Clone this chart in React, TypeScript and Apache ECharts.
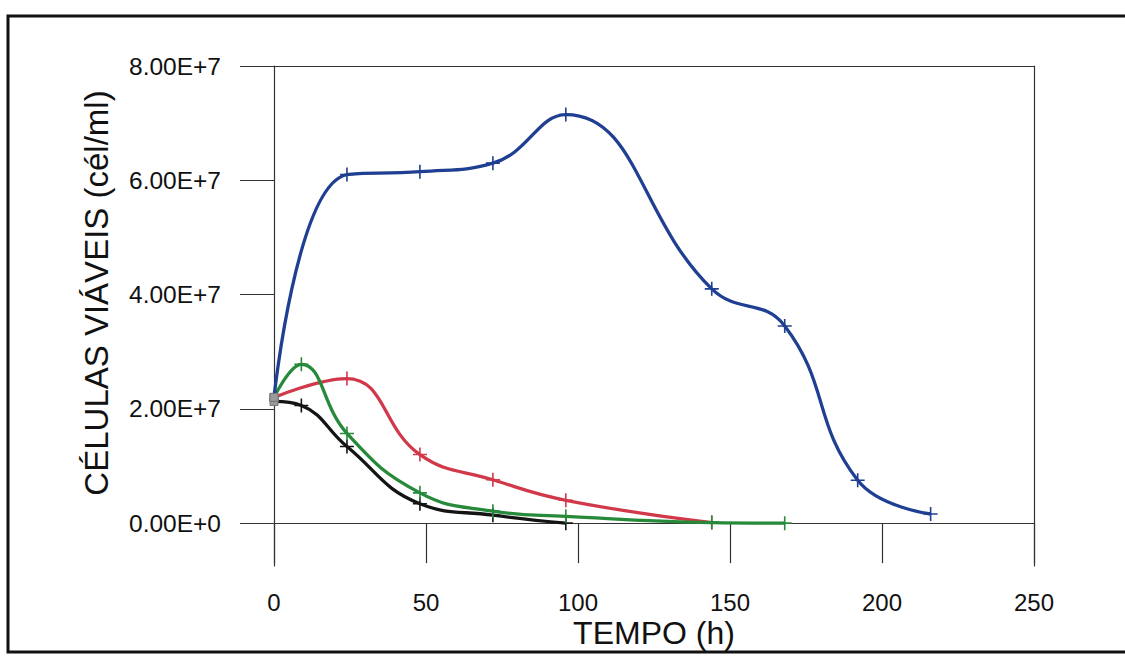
import React, { useEffect, useRef } from "react";
import * as echarts from "echarts";

// Sampling times (h)
const blueTimes = [0, 24, 48, 72, 96, 144, 168, 192, 216];
const blueValues = [2.2e7, 6.1e7, 6.15e7, 6.3e7, 7.15e7, 4.1e7, 3.45e7, 0.75e7, 0.16e7];

const redTimes = [0, 24, 48, 72, 96, 144];
const redValues = [2.2e7, 2.53e7, 1.2e7, 0.76e7, 0.4e7, 0.01e7];

const greenTimes = [0, 9, 24, 48, 72, 96, 144, 168];
const greenValues = [2.2e7, 2.78e7, 1.57e7, 0.53e7, 0.21e7, 0.12e7, 0.01e7, 0];

const blackTimes = [0, 9, 24, 48, 72, 96];
const blackValues = [2.13e7, 2.06e7, 1.34e7, 0.34e7, 0.14e7, 0];

const xTicks = [0, 50, 100, 150, 200, 250];
const yTicks = [0, 2e7, 4e7, 6e7, 8e7];

const X_NAME = "TEMPO (h)";
const Y_NAME = "CÉLULAS VIÁVEIS (cél/ml)";

const FONT = "'Liberation Sans', Arial, Helvetica, sans-serif";
const CROSS = "path://M0,-10 L0,10 M-10,0 L10,0";

function fmt(v: number): string {
  if (v === 0) return "0.00E+0";
  const e = Math.floor(Math.log10(Math.abs(v)));
  const m = v / Math.pow(10, e);
  return m.toFixed(2) + "E+" + e;
}

function makeSeries(name: string, times: number[], values: number[], color: string, z: number) {
  return {
    name,
    type: "line",
    smooth: 0.45,
    z,
    symbol: CROSS,
    symbolSize: 14,
    showSymbol: true,
    itemStyle: { color: "transparent", borderColor: color, borderWidth: 1.6 },
    lineStyle: { color, width: 3.3 },
    data: times.map((t, i) =>
      i === 0
        ? {
            value: [t, values[i]],
            symbol: "rect",
            symbolSize: 8,
            itemStyle: { color: "#9a9a9a", borderColor: "#777", borderWidth: 1 },
          }
        : [t, values[i]]
    ),
  };
}

export default function App() {
  const ref = useRef<HTMLDivElement>(null);
  useEffect(() => {
    document.body.style.margin = "0";
    if (!ref.current) return;
    const chart = echarts.init(ref.current, undefined, { renderer: "svg" });
    const axisColor = "#333";
    chart.setOption({
      animation: false,
      backgroundColor: "#ffffff",
      grid: {
        left: 274,
        right: 91,
        top: 66,
        bottom: 91,
        containLabel: false,
        outerBoundsMode: "none",
      },
      xAxis: [
        {
          type: "value",
          min: 0,
          max: 250,
          interval: 50,
          axisLine: { show: true, onZero: true, onZeroAxisIndex: 0, lineStyle: { color: axisColor, width: 1.2 } },
          axisTick: { show: true, inside: false, length: 40, lineStyle: { color: axisColor, width: 1.2 } },
          axisLabel: {
            margin: 24,
            fontFamily: FONT,
            fontSize: 24,
            color: "#111",
            customValues: xTicks,
          },
          splitLine: { show: false },
        },
        {
          type: "value",
          position: "top",
          min: 0,
          max: 250,
          axisLine: { show: true, onZero: false, lineStyle: { color: axisColor, width: 1.2 } },
          axisTick: { show: false },
          axisLabel: { show: false },
          splitLine: { show: false },
        },
      ],
      yAxis: [
        {
          type: "value",
          min: -7.5e6,
          max: 8e7,
          axisLine: { show: true, onZero: true, lineStyle: { color: axisColor, width: 1.2 } },
          axisTick: {
            show: true,
            inside: false,
            length: 34,
            customValues: yTicks,
            lineStyle: { color: axisColor, width: 1.2 },
          },
          axisLabel: {
            margin: 53,
            fontFamily: FONT,
            fontSize: 24.5,
            color: "#111",
            customValues: yTicks,
            formatter: (v: number) => fmt(v),
          },
          splitLine: { show: false },
        },
        {
          type: "value",
          position: "right",
          min: -7.5e6,
          max: 8e7,
          axisLine: { show: true, onZero: false, lineStyle: { color: axisColor, width: 1.2 } },
          axisTick: { show: false },
          axisLabel: { show: false },
          splitLine: { show: false },
        },
      ],
      graphic: [
        {
          type: "rect",
          shape: { x: 8, y: 16, width: 1200, height: 636 },
          style: { fill: "none", stroke: "#111", lineWidth: 3 },
          silent: true,
        },
        {
          type: "text",
          x: 96,
          y: 293,
          rotation: Math.PI / 2,
          style: {
            text: Y_NAME,
            fontFamily: FONT,
            fontSize: 33,
            fill: "#111",
            align: "center",
            verticalAlign: "middle",
          },
        },
        {
          type: "text",
          x: 654,
          y: 633,
          style: {
            text: X_NAME,
            fontFamily: FONT,
            fontSize: 32,
            fill: "#111",
            align: "center",
            verticalAlign: "middle",
          },
        },
      ],
      series: [
        makeSeries("preto", blackTimes, blackValues, "#141414", 2),
        makeSeries("vermelho", redTimes, redValues, "#d1384a", 3),
        makeSeries("verde", greenTimes, greenValues, "#27893a", 4),
        makeSeries("azul", blueTimes, blueValues, "#1f3f92", 5),
      ],
    });
    return () => chart.dispose();
  }, []);
  return (
    <div
      ref={ref}
      style={{ position: "fixed", left: 0, top: 0, width: 1125, height: 657 }}
    />
  );
}
